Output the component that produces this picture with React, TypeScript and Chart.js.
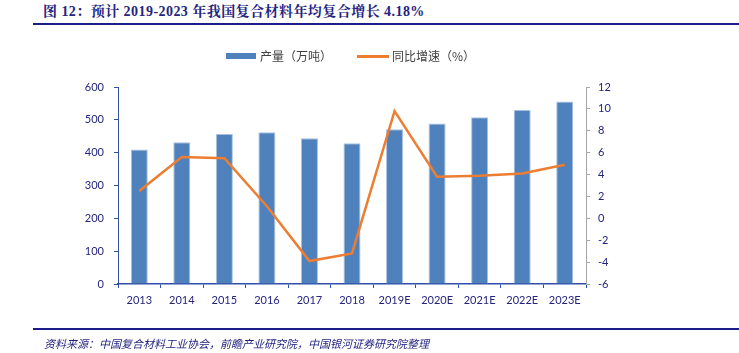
import React, { useEffect, useRef } from "react";
import { Chart, registerables } from "chart.js";
Chart.register(...registerables);

const categories = ["2013", "2014", "2015", "2016", "2017", "2018", "2019E", "2020E", "2021E", "2022E", "2023E"];
const outputValues = [410, 432, 457, 462, 444, 429, 471, 489, 508, 530, 556];
const growthValues = [2.5, 5.6, 5.5, 1.1, -3.9, -3.2, 9.8, 3.8, 3.9, 4.1, 4.9];
const titleText = "图 12：预计 2019-2023 年我国复合材料年均复合增长 4.18%";
const sourceText = "资料来源：中国复合材料工业协会，前瞻产业研究院，中国银河证券研究院整理";
const barLabel = "产量（万吨）";
const lineLabel = "同比增速（%）";

const NAVY = "#24247f";
const BAR = "#4F81BD";
const LINE = "#ED7D31";
const AXIS_BLUE = "#2f4fa8";

export default function App() {
  const ref = useRef<HTMLCanvasElement | null>(null);
  useEffect(() => {
    document.body.style.margin = "0";
    const ctx = ref.current!;
    const chart = new Chart(ctx, {
      type: "bar",
      data: {
        labels: categories,
        datasets: [
          {
            type: "line",
            label: lineLabel,
            data: growthValues,
            yAxisID: "y1",
            borderColor: LINE,
            backgroundColor: LINE,
            borderWidth: 2.5,
            pointRadius: 0,
            tension: 0,
            order: 0,
          } as any,
          {
            type: "bar",
            label: barLabel,
            data: outputValues,
            yAxisID: "y",
            backgroundColor: BAR,
            borderColor: "#a9c1e0",
            borderWidth: 1,
            borderSkipped: "bottom",
            categoryPercentage: 0.8,
            barPercentage: 0.5,
            order: 1,
          } as any,
        ],
      },
      options: {
        responsive: false,
        animation: false,
        layout: { padding: { left: 60, right: 113, top: 87, bottom: 39 } },
        plugins: { legend: { display: false }, title: { display: false }, tooltip: { enabled: false } },
        scales: {
          x: {
            afterFit: (s: any) => { s.height = 30; },
            grid: { drawOnChartArea: false, drawTicks: true, tickLength: 4, color: AXIS_BLUE, offset: true },
            border: { color: AXIS_BLUE, width: 1.5 },
            ticks: { color: NAVY, font: { family: "Lato", size: 11 }, padding: 6, maxRotation: 0, autoSkip: false },
          },
          y: {
            position: "left",
            min: 0,
            max: 600,
            afterFit: (s: any) => { s.width = 58; },
            grid: { drawOnChartArea: false, drawTicks: true, tickLength: 4, color: AXIS_BLUE },
            border: { color: AXIS_BLUE, width: 1 },
            ticks: { stepSize: 100, color: NAVY, font: { family: "Lato", size: 11 }, padding: 10 },
          },
          y1: {
            position: "right",
            min: -6,
            max: 12,
            afterFit: (s: any) => { s.width = 40; },
            grid: { drawOnChartArea: false, drawTicks: true, tickLength: 4, color: "#a6a6a6" },
            border: { color: "#a6a6a6", width: 1 },
            ticks: { stepSize: 2, color: NAVY, font: { family: "Lato", size: 11 }, padding: 8 },
          },
        },
      } as any,
    });
    return () => chart.destroy();
  }, []);

  return (
    <div style={{ position: "absolute", left: 0, top: 0, width: 739, height: 353, background: "#fff", overflow: "hidden" }}>
      <div
        style={{
          position: "absolute", left: 43, top: 4, whiteSpace: "nowrap",
          fontFamily: "'Liberation Serif', 'Noto Serif CJK SC', 'Noto Sans CJK SC', serif",
          fontWeight: "bold", fontSize: 14, lineHeight: "16px", color: NAVY, letterSpacing: "0.45px",
        }}
      >
        {titleText}
      </div>
      <div style={{ position: "absolute", left: 33, top: 23, width: 706, height: 2, background: "#1c1c8a" }} />
      <canvas ref={ref} width={739} height={353} style={{ position: "absolute", left: 0, top: 0 }} />
      <div style={{ position: "absolute", left: 226, top: 53, width: 30, height: 6, background: BAR }} />
      <div style={{ position: "absolute", left: 260, top: 48, fontFamily: "'Noto Sans CJK SC', sans-serif", fontSize: 12, lineHeight: "16px", color: "#404040", whiteSpace: "nowrap" }}>{barLabel}</div>
      <div style={{ position: "absolute", left: 357, top: 55, width: 32, height: 2.5, background: LINE }} />
      <div style={{ position: "absolute", left: 392, top: 48, fontFamily: "'Noto Sans CJK SC', sans-serif", fontSize: 12, lineHeight: "16px", color: "#404040", whiteSpace: "nowrap" }}>{lineLabel}</div>
      <div style={{ position: "absolute", left: 33, top: 328, width: 706, height: 2, background: "#1c1c8a" }} />
      <div
        style={{
          position: "absolute", left: 44, top: 336, whiteSpace: "nowrap",
          fontFamily: "'Noto Sans CJK SC', sans-serif", fontStyle: "italic",
          fontSize: 11, lineHeight: "14px", color: NAVY,
        }}
      >
        {sourceText}
      </div>
    </div>
  );
}
